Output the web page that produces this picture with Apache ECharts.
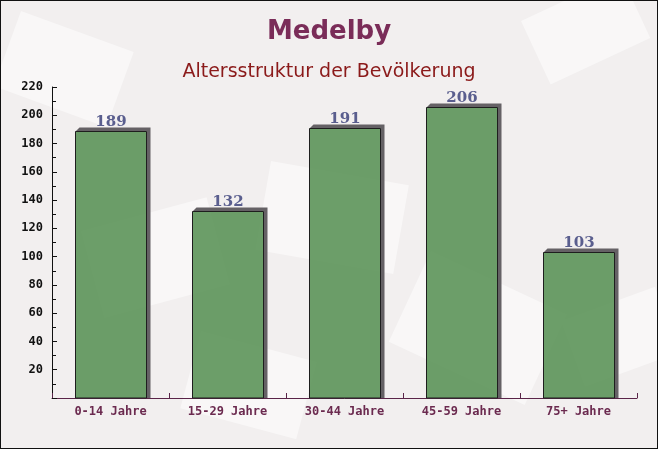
<!DOCTYPE html>
<html>
<head>
<meta charset="utf-8">
<script src="https://cdn.jsdelivr.net/npm/echarts@6/dist/echarts.min.js"></script>
<style>
html,body{margin:0;padding:0;background:#f4f1f1;}
#c{width:658px;height:449px;box-sizing:border-box;border:1px solid #111;}
</style>
</head>
<body>
<div id="c"></div>
<script>
const categories = ["0-14 Jahre", "15-29 Jahre", "30-44 Jahre", "45-59 Jahre", "75+ Jahre"];
const values = [189, 132, 191, 206, 103];
const yMin = 0, yMax = 220, yInterval = 20;
const titleText = "Medelby";
const subtitleText = "Altersstruktur der Bevölkerung";

const chart = echarts.init(document.getElementById('c'), null, {renderer: 'canvas'});

// background envelope-like shapes (decorative)
const bgShapes = [
  {x: 20, y: 10, w: 120, h: 80, r: -20},
  {x: 520, y: 20, w: 110, h: 70, r: 25},
  {x: 270, y: 160, w: 140, h: 90, r: -10},
  {x: 80, y: 230, w: 130, h: 90, r: 15},
  {x: 430, y: 250, w: 150, h: 100, r: -25},
  {x: 200, y: 330, w: 120, h: 80, r: -15},
  {x: 560, y: 320, w: 100, h: 70, r: 20}
];

chart.setOption({
  backgroundColor: '#f2efef',
  animation: false,
  graphic: bgShapes.map(s => ({
    type: 'rect', z: -10, silent: true,
    x: s.x, y: s.y, rotation: s.r * Math.PI / 180,
    shape: {x: 0, y: 0, width: s.w, height: s.h},
    style: {fill: 'rgba(255,255,255,0.5)'}
  })),
  title: [
    {text: titleText, left: 'center', top: 13,
     textStyle: {fontFamily: 'DejaVu Sans', fontSize: 26, fontWeight: 'bold', color: '#7a2c58'}},
    {text: subtitleText, left: 'center', top: 57,
     textStyle: {fontFamily: 'DejaVu Sans', fontSize: 19, fontWeight: 'normal', color: '#8b1a1a'}}
  ],
  grid: {left: 51, right: 20, top: 86, bottom: 50, containLabel: false},
  xAxis: {
    type: 'category', data: categories,
    axisLine: {lineStyle: {color: '#5a2448', width: 1}},
    axisTick: {show: true, inside: true, length: 5, alignWithLabel: false, lineStyle: {color: '#5a2448'}},
    axisLabel: {fontFamily: 'DejaVu Sans Mono', fontSize: 12, fontWeight: 'bold', color: '#6b2a4f', margin: 8},
    splitLine: {show: false}
  },
  yAxis: {
    type: 'value', min: yMin, max: yMax, interval: yInterval,
    axisLine: {show: true, lineStyle: {color: '#111', width: 1}},
    axisTick: {show: true, inside: true, length: 5, lineStyle: {color: '#111'}},
    minorTick: {show: true, splitNumber: 2, length: 4, lineStyle: {color: '#111'}},
    axisLabel: {fontFamily: 'DejaVu Sans Mono', fontSize: 12, fontWeight: 'bold', color: '#111', margin: 9,
      formatter: v => v === 0 ? '' : String(v)},
    splitLine: {show: false}
  },
  series: [{
    type: 'custom',
    data: values.map((v, i) => [i, v]),
    encode: {x: 0, y: 1},
    renderItem: function (params, api) {
      const idx = api.value(0), val = api.value(1);
      const top = api.coord([idx, val]);
      const bot = api.coord([idx, 0]);
      const band = api.size([1, 0])[0];
      const w = band * 0.61;
      const x0 = Math.round(top[0] - w / 2) + 0.5, x1 = Math.round(top[0] + w / 2) + 0.5;
      const yT = Math.round(top[1]) + 0.5, yB = bot[1];
      const d = 4;
      return {
        type: 'group',
        children: [
          {type: 'polygon', shape: {points: [[x0, yT], [x0 + d, yT - d], [x1 + d, yT - d], [x1 + d, yB], [x1, yB], [x1, yT]]},
           style: {fill: '#656165'}},
          {type: 'rect', shape: {x: x0, y: yT, width: x1 - x0, height: yB - yT},
           style: {fill: 'rgba(96,150,92,0.92)', stroke: '#1e1e1e', lineWidth: 1}},
          {type: 'text', x: (x0 + x1) / 2, y: yT - 2,
           style: {text: String(val), align: 'center', verticalAlign: 'bottom',
             font: 'bold 15px "DejaVu Serif"', fill: '#5a5e8e'}}
        ]
      };
    }
  }]
});
</script>
</body>
</html>
